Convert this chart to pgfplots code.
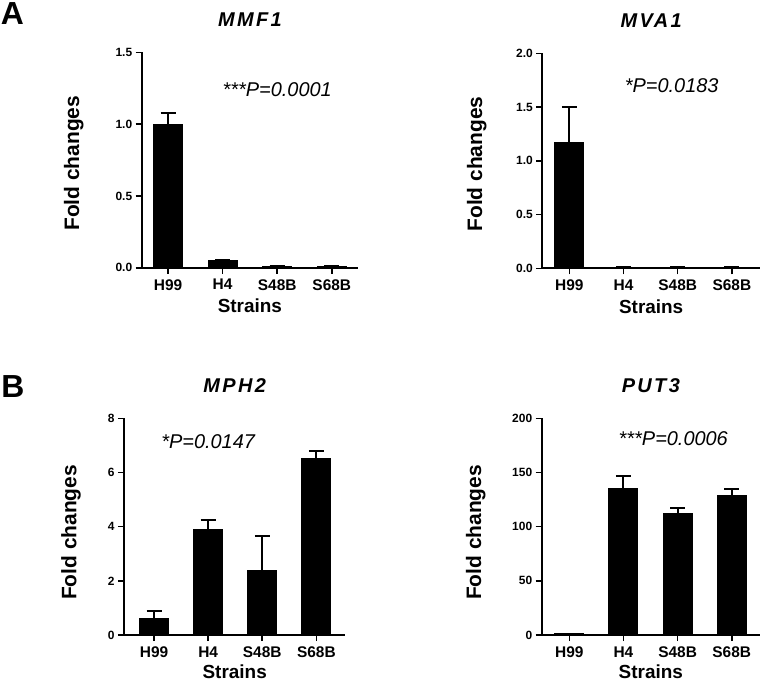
\documentclass[border=0pt]{standalone}
\usepackage{fontspec}
\setmainfont{Liberation Sans}
\usepackage{pgfplots}
\pgfplotsset{compat=1.18}
\pgfplotsset{
  gp/.style={
    scale only axis,
    axis x line*=bottom, axis y line*=left,
    axis line style={line width=2bp, black},
    every tick/.style={line width=1.6bp, black},
    tick align=outside, major tick length=6bp,
    xtick={0,1,2,3}, xticklabels={H99,H4,S48B,S68B},
    ymin=0,
    ybar, bar width=29bp,
    clip=false,
    /pgf/number format/assume math mode=true,
    xticklabel style={font=\bfseries\fontsize{15.5}{15.5}\selectfont, yshift=-2bp},
    yticklabel style={font=\bfseries\fontsize{12}{12}\selectfont},
    xlabel=Strains, ylabel=Fold changes,
    xlabel style={font=\bfseries\fontsize{19}{19}\selectfont, inner sep=0pt, at={(axis description cs:0.5,0)}, anchor=center, yshift=-38bp},
    title style={font=\bfseries\itshape\fontsize{20}{20}\selectfont\addfontfeature{LetterSpace=12}, at={(axis description cs:0.5,1)}, anchor=center, yshift=27bp},
  },
  gpbar/.style={fill=black, draw=black, line width=1bp,
    error bars/.cd, y dir=plus, y explicit, error mark=|,
    error bar style={line width=2bp, black},
    error mark options={line width=2bp, mark size=7.5bp, black}},
  onedec/.style={yticklabel style={/pgf/number format/fixed, /pgf/number format/fixed zerofill, /pgf/number format/precision=1}},
}
\begin{document}
\begin{tikzpicture}
\useasboundingbox (0,0) rectangle (761bp,-683bp);
\node[font=\bfseries\fontsize{32}{32}\selectfont] at (12.5bp,-14bp) {A};
\node[font=\bfseries\fontsize{32}{32}\selectfont] at (13bp,-386.5bp) {B};

% MMF1
\begin{axis}[gp, onedec, at={(141.7bp,-267.7bp)}, anchor=south west,
  width=216.3bp, height=215.4bp, xmin=-0.482, xmax=3.48, ymax=1.5,
  ytick={0,0.5,1,1.5}, title={MMF1},
  ylabel style={font=\bfseries\fontsize{21}{21}\selectfont, at={(axis description cs:0,0.485)}, anchor=center, yshift=68bp}]
\addplot[gpbar] coordinates {(0,1.0) +- (0,0.08) (1,0.05) +- (0,0.004) (2,0.011) +- (0,0.002) (3,0.01) +- (0,0.002)};
\node[font=\itshape\fontsize{20}{20}\selectfont] at (axis cs:2.0,1.237) {***P=0.0001};
\end{axis}

% MVA1
\begin{axis}[gp, onedec, at={(542.3bp,-268.3bp)}, anchor=south west,
  width=217.7bp, height=215bp, xmin=-0.5, xmax=3.52, ymax=2.0,
  ytick={0,0.5,1,1.5,2}, title={MVA1},
  ylabel style={font=\bfseries\fontsize{21}{21}\selectfont, at={(axis description cs:0,0.485)}, anchor=center, yshift=65.6bp}]
\addplot[gpbar] coordinates {(0,1.168) +- (0,0.33) (1,0.01) +- (0,0.002) (2,0.008) +- (0,0.002) (3,0.01) +- (0,0.002)};
\node[font=\itshape\fontsize{20}{20}\selectfont] at (axis cs:1.89,1.70) {*P=0.0183};
\end{axis}

% MPH2
\begin{axis}[gp, at={(124bp,-635bp)}, anchor=south west,
  width=221.4bp, height=216.7bp, xmin=-0.556, xmax=3.537, ymax=8,
  ytick={0,2,4,6,8}, title={MPH2},
  xlabel style={yshift=1bp},
  ylabel style={font=\bfseries\fontsize{21}{21}\selectfont, at={(axis description cs:0,0.473)}, anchor=center, yshift=53bp}]
\addplot[gpbar] coordinates {(0,0.62) +- (0,0.28) (1,3.90) +- (0,0.35) (2,2.40) +- (0,1.27) (3,6.50) +- (0,0.29)};
\node[font=\itshape\fontsize{20}{20}\selectfont] at (axis cs:1.0,7.14) {*P=0.0147};
\end{axis}

% PUT3
\begin{axis}[gp, at={(541.7bp,-635bp)}, anchor=south west,
  width=218.2bp, height=216.7bp, xmin=-0.51, xmax=3.52, ymax=200,
  ytick={0,50,100,150,200}, title={PUT3},
  xlabel style={yshift=1bp},
  ylabel style={font=\bfseries\fontsize{21}{21}\selectfont, at={(axis description cs:0,0.473)}, anchor=center, yshift=66bp}]
\addplot[gpbar] coordinates {(0,1.0) +- (0,0.2) (1,135.4) +- (0,11.3) (2,112.3) +- (0,5.2) (3,128.6) +- (0,6.1)};
\node[font=\itshape\fontsize{20}{20}\selectfont] at (axis cs:1.92,181.5) {***P=0.0006};
\end{axis}
\end{tikzpicture}
\end{document}
